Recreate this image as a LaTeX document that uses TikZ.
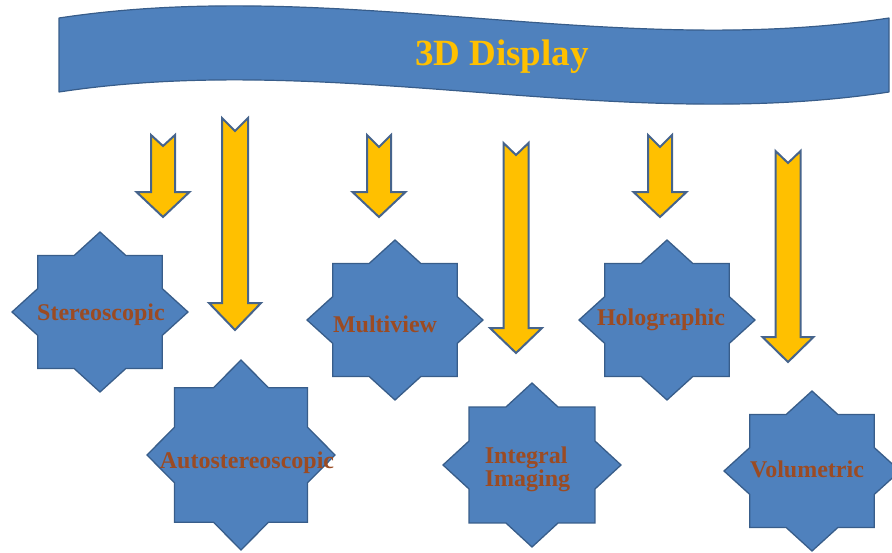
\documentclass[tikz,border=0pt]{standalone}
\usepackage{fontspec}
\setmainfont{Liberation Serif}
\definecolor{bluefill}{RGB}{79,129,189}
\definecolor{blueline}{RGB}{56,93,138}
\definecolor{arrowfill}{RGB}{255,192,0}
\definecolor{arrowline}{RGB}{70,100,140}
\definecolor{labelbrown}{RGB}{155,75,35}
\definecolor{titlegold}{RGB}{255,192,0}
\tikzset{
  bannersty/.style={fill=bluefill,draw=blueline,line width=1.2pt,line join=round},
  starsty/.style={fill=bluefill,draw=blueline,line width=1.3pt,line join=miter},
  arrowsty/.style={fill=arrowfill,draw=arrowline,line width=2pt,line join=miter},
  starlabel/.style={font=\fontsize{24}{23}\selectfont\bfseries,text=labelbrown,inner sep=0pt},
  titlelabel/.style={font=\fontsize{37}{40}\selectfont\bfseries,text=titlegold,inner sep=0pt}
}
% eight-point star: centre x, centre y, half width, half height
\newcommand\octostar[4]{%
  \begin{scope}[shift={(#1,#2)},xscale=#3,yscale=#4]
    \draw[starsty] (0,1) -- (0.2929,0.7071) -- (0.7071,0.7071) -- (0.7071,0.2929)
      -- (1,0) -- (0.7071,-0.2929) -- (0.7071,-0.7071) -- (0.2929,-0.7071)
      -- (0,-1) -- (-0.2929,-0.7071) -- (-0.7071,-0.7071) -- (-0.7071,-0.2929)
      -- (-1,0) -- (-0.7071,0.2929) -- (-0.7071,0.7071) -- (-0.2929,0.7071) -- cycle;
  \end{scope}}
% block arrow: cx, top, notch, head base, tip, shaft width, head width
\newcommand\blockarrow[7]{%
  \draw[arrowsty] ({#1-#6/2},#2) -- (#1,{#2+#3}) -- ({#1+#6/2},#2)
    -- ({#1+#6/2},#4) -- ({#1+#7/2},#4) -- (#1,#5) -- ({#1-#7/2},#4)
    -- ({#1-#6/2},#4) -- cycle;}
\begin{document}
\begin{tikzpicture}[x=1pt,y=-1pt]
\useasboundingbox (0,0) rectangle (892,552);
% banner
\draw[bannersty] (59,18) .. controls (336,-24) and (612,60) .. (889,18)
  -- (889,92) .. controls (612,134) and (336,50) .. (59,92) -- cycle;
\node[titlelabel,anchor=base] (title) at (502,65) {3D Display};
% arrows
\blockarrow{163}{135}{11}{192}{217}{24}{53}
\blockarrow{379}{135}{12}{192}{217}{24}{53}
\blockarrow{660}{135}{12}{192}{217}{24}{53}
\blockarrow{235}{118}{13}{303}{330}{26}{52}
\blockarrow{516}{143}{12}{328}{353}{25}{52}
\blockarrow{788}{151}{12}{337}{362}{25}{51}
% stars
\octostar{100}{312}{88}{80}
\octostar{241}{455}{94}{95}
\octostar{395}{320}{88}{80}
\octostar{667}{320}{88}{80}
\octostar{532}{465}{89}{82}
\octostar{812}{471}{88}{80}
% labels
\node[starlabel,anchor=base] (stereo) at (101,320) {Stereoscopic};
\node[starlabel,anchor=base] (auto) at (247,468) {Autostereoscopic};
\node[starlabel,anchor=base] (multi) at (385,332) {Multiview};
\node[starlabel,anchor=base] (holo) at (661,325) {Holographic};
\node[starlabel,align=left] (integral) at (527.5,469) {Integral\\Imaging};
\node[starlabel,anchor=base] (volu) at (807,477) {Volumetric};
\end{tikzpicture}
\end{document}
